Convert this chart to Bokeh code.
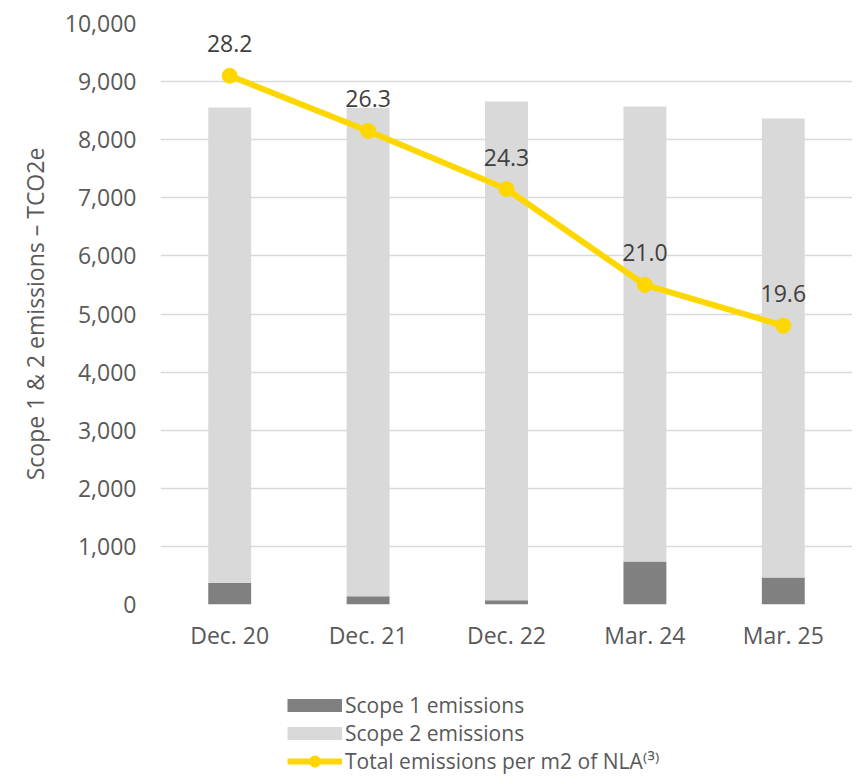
from bokeh.plotting import figure
from bokeh.layouts import column
from bokeh.models import (ColumnDataSource, Range1d, FactorRange, NumeralTickFormatter,
                          FixedTicker, LabelSet, Legend, LegendItem)
from bokeh.core.properties import value
from bokeh.embed import file_html
from bokeh.resources import INLINE

# ---- data ----
periods = ["Dec. 20", "Dec. 21", "Dec. 22", "Mar. 24", "Mar. 25"]
scope1 = [372, 143, 74, 740, 464]
scope2 = [8182, 8407, 8583, 7831, 7901]
per_m2 = [28.2, 26.3, 24.3, 21.0, 19.6]
per_m2_labels = ["28.2", "26.3", "24.3", "21.0", "19.6"]
y_ticks = [0, 1000, 2000, 3000, 4000, 5000, 6000, 7000, 8000, 9000, 10000]

FONT = "Open Sans"
TXT = "#595959"
C1, C2, CY = "#808080", "#D9D9D9", "#FFD700"

src = ColumnDataSource(dict(period=periods, scope1=scope1, scope2=scope2,
                            per_m2=per_m2, lbl=per_m2_labels))

p = figure(x_range=FactorRange(*periods), y_range=Range1d(0, 10000),
           width=852, height=660, output_backend="svg", toolbar_location=None,
           min_border_left=160, min_border_right=0, min_border_top=23,
           min_border_bottom=56)
p.extra_y_ranges = {"m2": Range1d(10, 30)}
p.outline_line_color = None

p.vbar_stack(["scope1", "scope2"], x="period", width=0.31, source=src,
             fill_color=[C1, C2], line_color=None)

ln = p.line(x="period", y="per_m2", y_range_name="m2", source=src,
            line_width=6, line_color=CY)
pts = p.scatter(x="period", y="per_m2", y_range_name="m2", source=src,
                size=15, fill_color=CY, line_color=CY)

labels = LabelSet(x="period", y="per_m2", text="lbl", y_range_name="m2", source=src,
                  y_offset=32, text_align="center", text_baseline="middle",
                  text_font=value(FONT), text_font_size="23px", text_color="#404040")
p.add_layout(labels)

# axes
p.yaxis.ticker = FixedTicker(ticks=y_ticks)
p.yaxis.formatter = NumeralTickFormatter(format="0,0")
p.yaxis.axis_label = "Scope 1 & 2 emissions \u2013 TCO2e"
p.yaxis.axis_label_text_font = FONT
p.yaxis.axis_label_text_font_size = "23px"
p.yaxis.axis_label_text_font_style = "normal"
p.yaxis.axis_label_text_color = TXT
p.yaxis.axis_label_standoff = 11
p.yaxis.major_label_standoff = 24

for ax in (p.xaxis, p.yaxis):
    ax.axis_line_color = None
    ax.major_tick_line_color = None
    ax.minor_tick_line_color = None
    ax.major_tick_out = 0
    ax.minor_tick_out = 0
    ax.major_label_text_font = FONT
    ax.major_label_text_font_size = "23px"
    ax.major_label_text_color = TXT
p.xaxis.major_label_standoff = 14

p.xgrid.grid_line_color = None
p.ygrid.grid_line_color = "#D9D9D9"
p.ygrid.grid_line_width = 1.5

# ---- legend panel (its glyphs fall outside its range, only swatches show) ----
lg = figure(width=852, height=115, output_backend="svg", toolbar_location=None,
            x_range=FactorRange(*periods), y_range=Range1d(-2, -1),
            x_axis_location=None, y_axis_location=None, min_border=0)
lg.outline_line_color = None
lg.grid.grid_line_color = None

s1_proxy = lg.line(x="period", y="scope1", source=src, line_width=13, line_color=C1, line_cap="butt")
s2_proxy = lg.line(x="period", y="scope2", source=src, line_width=13, line_color=C2, line_cap="butt")
t_line = lg.line(x="period", y="per_m2", source=src, line_width=6, line_color=CY)
t_pts = lg.scatter(x="period", y="per_m2", source=src, size=15, fill_color=CY, line_color=CY)

legend = Legend(items=[
    LegendItem(label="Scope 1 emissions", renderers=[s1_proxy]),
    LegendItem(label="Scope 2 emissions", renderers=[s2_proxy]),
    LegendItem(label="Total emissions per m2 of NLA\u207d\u00b3\u207e", renderers=[t_line, t_pts]),
], location=(127, 0), orientation="vertical", glyph_width=55, glyph_height=28,
    label_height=28, spacing=0, padding=0, margin=0, label_standoff=3,
    label_text_font=FONT, label_text_font_size="21px", label_text_color=TXT,
    background_fill_alpha=0, border_line_color=None)
lg.add_layout(legend)

open("out.html", "w").write(file_html(column(p, lg), INLINE))
